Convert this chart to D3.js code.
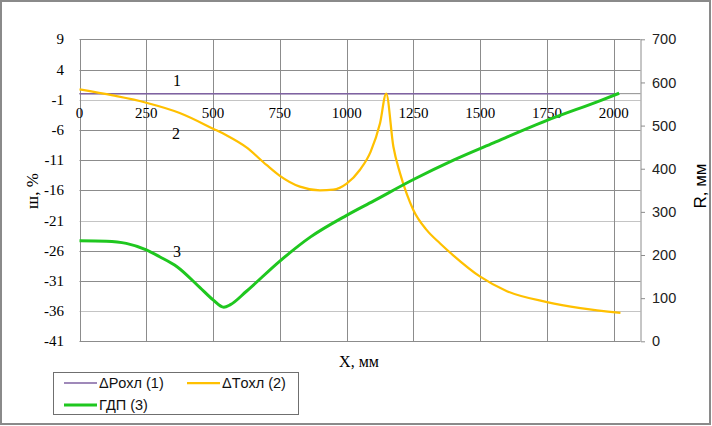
<!DOCTYPE html>
<html><head><meta charset="utf-8">
<script src="https://cdn.jsdelivr.net/npm/d3@7"></script>
<style>html,body{margin:0;padding:0;background:#fff;}svg{display:block;}</style>
</head><body><svg id="c" width="712" height="426"></svg>
<script>
// ---- data ----
const leftTicks = [9, 4, -1, -6, -11, -16, -21, -26, -31, -36, -41];
const rightTicks = [0, 100, 200, 300, 400, 500, 600, 700];
const xTicks = [0, 250, 500, 750, 1000, 1250, 1500, 1750, 2000];

const s1X = [0, 500, 1000, 1500, 2020];
const s1Y = [0, 0, 0, 0, 0];

const s2X = [0, 125, 250, 375, 500, 550, 625, 700, 750, 825, 900, 950, 1000, 1050, 1090, 1125, 1148, 1175, 1200, 1225, 1250, 1300, 1350, 1400, 1500, 1600, 1750, 1875, 2025];
const s2Y = [0.7, -0.3, -1.5, -3.2, -5.8, -6.9, -8.9, -11.8, -13.6, -15.4, -16.0, -15.9, -14.9, -12.6, -9.6, -4.9, 0.0, -8.8, -13.2, -16.6, -19.3, -22.6, -24.8, -26.8, -30.3, -32.7, -34.5, -35.5, -36.3];

const s3X = [0, 100, 175, 250, 300, 365, 450, 500, 540, 565, 625, 750, 865, 1000, 1100, 1250, 1400, 1550, 1750, 1950, 2020];
const s3Y = [233, 232, 227, 212, 196, 173, 125, 96, 79, 85, 116, 186, 242, 292, 325, 375, 420, 460, 512, 558, 575];

const seriesNames = ["ΔPохл (1)", "ΔTохл (2)", "ГДП (3)"];
const colors = ["#7f62a2", "#ffc000", "#1fc71f"];

// ---- layout ----
const svg = d3.select("#c");
const L = 79.5, R = 640.5, T = 39.3, B = 341.3;
const x = d3.scaleLinear().domain([0, 2100]).range([L, R]);
const yL = d3.scaleLinear().domain([-41, 9]).range([B, T]);
const yR = d3.scaleLinear().domain([0, 700]).range([B, T]);

// outer border
svg.append("rect").attr("x", 1).attr("y", 1).attr("width", 709).attr("height", 423)
  .attr("fill", "#fff").attr("stroke", "#8a8a8a").attr("stroke-width", 2);

// horizontal gridlines
const lightLines = [-1, -21, -36];
svg.append("g").selectAll("line").data(leftTicks).join("line")
  .attr("x1", L).attr("x2", R)
  .attr("y1", d => Math.round(yL(d)) + 0.5).attr("y2", d => Math.round(yL(d)) + 0.5)
  .attr("stroke", d => lightLines.includes(d) ? "#c4c4c4" : "#8c8c8c").attr("stroke-width", 1);

// vertical gridlines
svg.append("g").selectAll("line").data(xTicks).join("line")
  .attr("x1", d => Math.round(x(d)) + 0.5).attr("x2", d => Math.round(x(d)) + 0.5)
  .attr("y1", T).attr("y2", B)
  .attr("stroke", "#8c8c8c").attr("stroke-width", 1);

// right axis line
svg.append("line").attr("x1", R + 0.5).attr("x2", R + 0.5).attr("y1", T).attr("y2", B)
  .attr("stroke", "#8c8c8c");

// x axis line at y=0
svg.append("line").attr("x1", L).attr("x2", R).attr("y1", yL(0)).attr("y2", yL(0))
  .attr("stroke", "#8c8c8c");

// left axis labels
svg.append("g").selectAll("text").data(leftTicks).join("text")
  .attr("x", 64).attr("y", d => yL(d) + 5)
  .attr("text-anchor", "end")
  .attr("font-family", "Liberation Serif, Times New Roman, serif").attr("font-size", 15)
  .attr("fill", "#000").text(d => d);

// right axis ticks + labels
const rAxis = d3.axisRight(yR).tickValues(rightTicks).tickSize(4).tickPadding(7).tickFormat(d3.format("d"));
const gR = svg.append("g").attr("transform", `translate(${R + 0.5},0)`).call(rAxis);
gR.select(".domain").remove();
gR.selectAll(".tick line").attr("stroke", "#8c8c8c");
gR.selectAll(".tick text").attr("font-family", "Liberation Sans, Arial, sans-serif")
  .attr("font-size", 14.5).attr("fill", "#222");

// x axis labels
svg.append("g").selectAll("text").data(xTicks).join("text")
  .attr("x", d => x(d)).attr("y", 118)
  .attr("text-anchor", "middle")
  .attr("font-family", "Liberation Serif, Times New Roman, serif").attr("font-size", 15)
  .attr("fill", "#000").text(d => d);

// axis titles
svg.append("text").attr("x", 359).attr("y", 367).attr("text-anchor", "middle")
  .attr("font-family", "Liberation Serif, Times New Roman, serif").attr("font-size", 16)
  .text("X, мм");
svg.append("text").attr("transform", "translate(38,191) rotate(-90)").attr("text-anchor", "middle")
  .attr("font-family", "Liberation Serif, Times New Roman, serif").attr("font-size", 17)
  .text("ш, %");
svg.append("text").attr("transform", "translate(706,186) rotate(-90)").attr("text-anchor", "middle")
  .attr("font-family", "Liberation Sans, Arial, sans-serif").attr("font-size", 17)
  .text("R, мм");

// series
const lineL = d3.line().x(d => x(d[0])).y(d => yL(d[1]));
const lineLs = d3.line().x(d => x(d[0])).y(d => yL(d[1])).curve(d3.curveMonotoneX);
const lineRs = d3.line().x(d => x(d[0])).y(d => yR(d[1])).curve(d3.curveMonotoneX);

svg.append("path").attr("d", lineL(d3.zip(s1X, s1Y)))
  .attr("fill", "none").attr("stroke", colors[0]).attr("stroke-width", 1.5);
svg.append("path").attr("d", lineLs(d3.zip(s2X, s2Y)))
  .attr("fill", "none").attr("stroke", colors[1]).attr("stroke-width", 2.25);
svg.append("path").attr("d", lineRs(d3.zip(s3X, s3Y)))
  .attr("fill", "none").attr("stroke", colors[2]).attr("stroke-width", 3).attr("stroke-linejoin", "round");

// curve labels
const curveLabels = [["1", 177, 86], ["2", 176, 139], ["3", 177, 257]];
svg.append("g").selectAll("text").data(curveLabels).join("text")
  .attr("x", d => d[1]).attr("y", d => d[2]).attr("text-anchor", "middle")
  .attr("font-family", "Liberation Serif, Times New Roman, serif").attr("font-size", 16)
  .text(d => d[0]);

// legend
const lg = svg.append("g");
lg.append("rect").attr("x", 53.5).attr("y", 372.5).attr("width", 245).attr("height", 42)
  .attr("fill", "#fff").attr("stroke", "#6f6f6f").attr("stroke-width", 1);
const legPos = [[64, 383], [187, 383], [64, 405]];
const legW = [1.5, 2.25, 3];
seriesNames.forEach((n, i) => {
  const [lx, ly] = legPos[i];
  lg.append("line").attr("x1", lx).attr("x2", lx + 33).attr("y1", ly).attr("y2", ly)
    .attr("stroke", colors[i]).attr("stroke-width", legW[i]);
  lg.append("text").attr("x", lx + 35).attr("y", ly + 5)
    .attr("font-family", "Liberation Sans, Arial, sans-serif").attr("font-size", 14.5)
    .attr("fill", "#111").text(n);
});
</script></body></html>
